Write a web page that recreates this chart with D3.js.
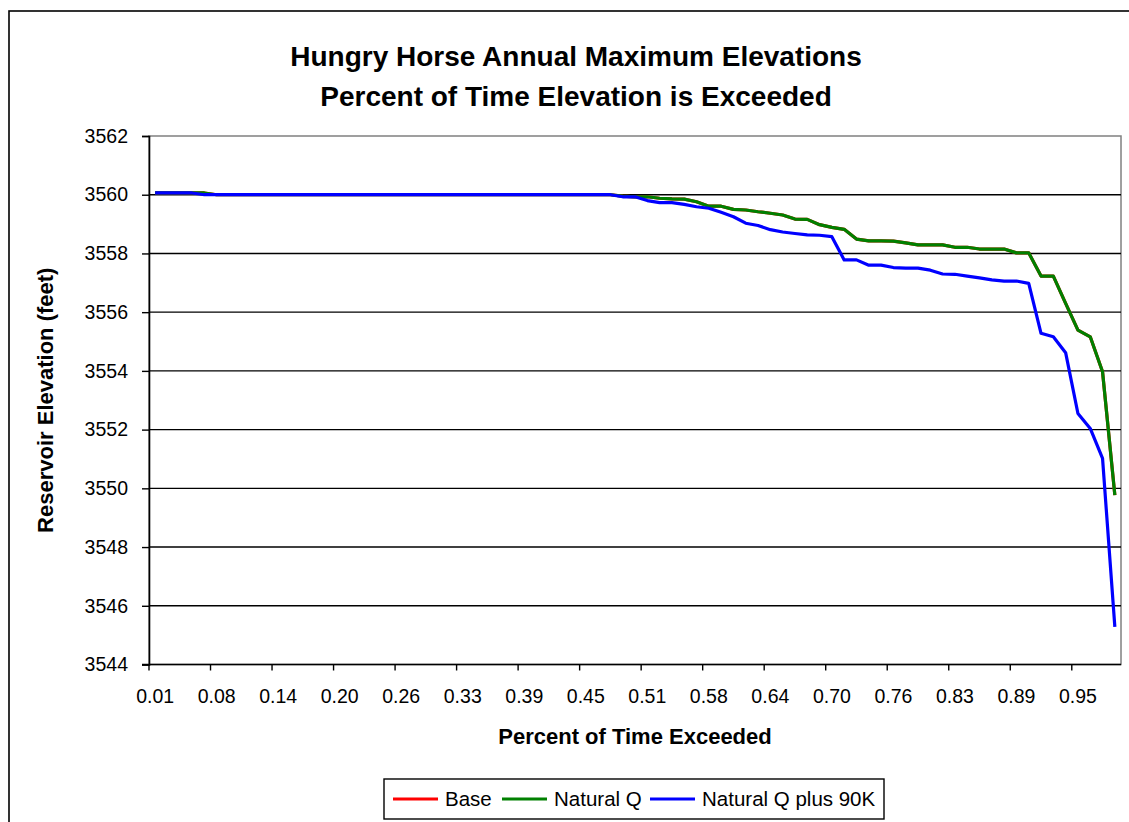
<!DOCTYPE html>
<html>
<head>
<meta charset="utf-8">
<script src="https://cdn.jsdelivr.net/npm/d3@7"></script>
<style>
  body { margin: 0; background: #fff; }
  svg { display: block; font-family: "Liberation Sans", Arial, sans-serif; }
</style>
</head>
<body>
<svg id="chart" width="1129" height="822"></svg>
<script>
// exceedance plotting positions (rank / 80), as printed on the category axis
var categories = ["0.01","0.03","0.04","0.05","0.06","0.08","0.09","0.10","0.11","0.13",
	"0.14","0.15","0.16","0.18","0.19","0.20","0.21","0.23","0.24","0.25",
	"0.26","0.28","0.29","0.30","0.31","0.33","0.34","0.35","0.36","0.38",
	"0.39","0.40","0.41","0.43","0.44","0.45","0.46","0.48","0.49","0.50",
	"0.51","0.53","0.54","0.55","0.56","0.58","0.59","0.60","0.61","0.63",
	"0.64","0.65","0.66","0.68","0.69","0.70","0.71","0.73","0.74","0.75",
	"0.76","0.78","0.79","0.80","0.81","0.83","0.84","0.85","0.86","0.88",
	"0.89","0.90","0.91","0.93","0.94","0.95","0.96","0.98","0.99"];

var base = [3560.06,3560.06,3560.06,3560.06,3560.06,3560.00,3560.00,3560.00,3560.00,3560.00,
	3560.00,3560.00,3560.00,3560.00,3560.00,3560.00,3560.00,3560.00,3560.00,3560.00,
	3560.00,3560.00,3560.00,3560.00,3560.00,3560.00,3560.00,3560.00,3560.00,3560.00,
	3560.00,3560.00,3560.00,3560.00,3560.00,3560.00,3560.00,3560.00,3559.95,3559.93,
	3559.93,3559.88,3559.86,3559.85,3559.76,3559.61,3559.61,3559.50,3559.48,3559.42,
	3559.37,3559.31,3559.17,3559.16,3558.98,3558.89,3558.82,3558.49,3558.43,3558.43,
	3558.42,3558.36,3558.29,3558.29,3558.29,3558.21,3558.21,3558.15,3558.15,3558.15,
	3558.02,3558.02,3557.23,3557.23,3556.30,3555.39,3555.16,3553.97,3549.77];

var naturalQ = [3560.06,3560.06,3560.06,3560.06,3560.06,3560.00,3560.00,3560.00,3560.00,3560.00,
	3560.00,3560.00,3560.00,3560.00,3560.00,3560.00,3560.00,3560.00,3560.00,3560.00,
	3560.00,3560.00,3560.00,3560.00,3560.00,3560.00,3560.00,3560.00,3560.00,3560.00,
	3560.00,3560.00,3560.00,3560.00,3560.00,3560.00,3560.00,3560.00,3559.95,3559.93,
	3559.93,3559.88,3559.86,3559.85,3559.76,3559.61,3559.61,3559.50,3559.48,3559.42,
	3559.37,3559.31,3559.17,3559.16,3558.98,3558.89,3558.82,3558.49,3558.43,3558.43,
	3558.42,3558.36,3558.29,3558.29,3558.29,3558.21,3558.21,3558.15,3558.15,3558.15,
	3558.02,3558.02,3557.23,3557.23,3556.30,3555.39,3555.16,3553.97,3549.77];

var naturalQ90K = [3560.06,3560.06,3560.06,3560.06,3560.00,3560.00,3560.00,3560.00,3560.00,3560.00,
	3560.00,3560.00,3560.00,3560.00,3560.00,3560.00,3560.00,3560.00,3560.00,3560.00,
	3560.00,3560.00,3560.00,3560.00,3560.00,3560.00,3560.00,3560.00,3560.00,3560.00,
	3560.00,3560.00,3560.00,3560.00,3560.00,3560.00,3560.00,3560.00,3559.93,3559.93,
	3559.80,3559.73,3559.73,3559.67,3559.59,3559.54,3559.40,3559.25,3559.03,3558.95,
	3558.81,3558.73,3558.68,3558.63,3558.62,3558.57,3557.78,3557.78,3557.60,3557.60,
	3557.52,3557.50,3557.50,3557.43,3557.30,3557.29,3557.23,3557.17,3557.10,3557.06,
	3557.06,3556.98,3555.28,3555.16,3554.62,3552.55,3552.04,3551.02,3545.28];

var yTicks = [3544,3546,3548,3550,3552,3554,3556,3558,3560,3562];
var labelEvery = 5;

var seriesNames = ["Base", "Natural Q", "Natural Q plus 90K"];
var seriesColors = ["#ff0000", "#008000", "#0000ff"];
var seriesValues = [base, naturalQ, naturalQ90K];

var svg = d3.select("#chart");
var plotLeft = 149, plotRight = 1121, plotTop = 136, plotBottom = 664.5;

var x = d3.scaleBand().domain(categories).range([plotLeft, plotRight]).padding(0);
var y = d3.scaleLinear().domain([3544, 3562]).range([plotBottom, plotTop]);
var cx = function(c) { return x(c) + x.bandwidth() / 2; };

// chart area border (runs off the right and bottom of the page)
svg.append("rect")
	.attr("x", 9).attr("y", 11)
	.attr("width", 1200).attr("height", 900)
	.attr("fill", "none").attr("stroke", "#000").attr("stroke-width", 1.6);

// plot area border
svg.append("rect")
	.attr("x", plotLeft).attr("y", plotTop)
	.attr("width", plotRight - plotLeft).attr("height", plotBottom - plotTop)
	.attr("fill", "#fff").attr("stroke", "#808080").attr("stroke-width", 1.5);

// gridlines
svg.append("g").selectAll("line")
	.data(yTicks.filter(function(t) { return t !== 3544 && t !== 3562; }))
	.enter().append("line")
	.attr("x1", plotLeft).attr("x2", plotRight)
	.attr("y1", function(d) { return y(d); }).attr("y2", function(d) { return y(d); })
	.attr("stroke", "#000").attr("stroke-width", 1.4);

// y axis
var yAxis = svg.append("g")
	.attr("transform", "translate(" + plotLeft + ",0)")
	.call(d3.axisLeft(y).tickValues(yTicks).tickSize(7).tickPadding(14).tickFormat(d3.format("d")));
yAxis.select(".domain").attr("stroke", "#000").attr("stroke-width", 1.6);
yAxis.selectAll(".tick line").attr("stroke", "#000").attr("stroke-width", 1.4);
yAxis.selectAll("text").attr("font-size", 19.5).attr("fill", "#000")
	.attr("font-family", "Liberation Sans, Arial, sans-serif");

// x axis: labels at category centres, ticks at category boundaries
var shown = categories.filter(function(c, i) { return i % labelEvery === 0; });
var xAxis = svg.append("g")
	.attr("transform", "translate(0," + plotBottom + ")")
	.call(d3.axisBottom(x).tickValues(shown).tickSize(0).tickPadding(25));
xAxis.select(".domain").remove();
xAxis.selectAll("text").attr("font-size", 19.5).attr("fill", "#000")
	.attr("font-family", "Liberation Sans, Arial, sans-serif");
svg.append("g").selectAll("line")
	.data(shown)
	.enter().append("line")
	.attr("x1", function(d) { return x(d); }).attr("x2", function(d) { return x(d); })
	.attr("y1", plotBottom).attr("y2", plotBottom + 6)
	.attr("stroke", "#000").attr("stroke-width", 1.4);
svg.append("line")
	.attr("x1", plotLeft - 7).attr("x2", plotRight)
	.attr("y1", plotBottom).attr("y2", plotBottom)
	.attr("stroke", "#000").attr("stroke-width", 1.6);

// series
var line = d3.line()
	.x(function(d, i) { return cx(categories[i]); })
	.y(function(d) { return y(d); });

svg.append("g").selectAll("path")
	.data(seriesValues)
	.enter().append("path")
	.attr("d", line)
	.attr("fill", "none")
	.attr("stroke", function(d, i) { return seriesColors[i]; })
	.attr("stroke-width", 3.2)
	.attr("stroke-linejoin", "round");

// titles
svg.append("text")
	.attr("x", 576).attr("y", 66)
	.attr("text-anchor", "middle").attr("font-size", 28).attr("font-weight", "bold")
	.text("Hungry Horse Annual Maximum Elevations");
svg.append("text")
	.attr("x", 576).attr("y", 106)
	.attr("text-anchor", "middle").attr("font-size", 28).attr("font-weight", "bold")
	.text("Percent of Time Elevation is Exceeded");

svg.append("text")
	.attr("x", (plotLeft + plotRight) / 2).attr("y", 744)
	.attr("text-anchor", "middle").attr("font-size", 22).attr("font-weight", "bold")
	.text("Percent of Time Exceeded");

svg.append("text")
	.attr("transform", "translate(53," + ((plotTop + plotBottom) / 2) + ") rotate(-90)")
	.attr("text-anchor", "middle").attr("font-size", 22).attr("font-weight", "bold")
	.text("Reservoir Elevation (feet)");

// legend
var legend = svg.append("g");
legend.append("rect")
	.attr("x", 384).attr("y", 779)
	.attr("width", 500).attr("height", 40)
	.attr("fill", "#fff").attr("stroke", "#000").attr("stroke-width", 1.4);
var legendX = [393, 502, 650];
var items = legend.selectAll("g.item")
	.data(seriesNames)
	.enter().append("g")
	.attr("transform", function(d, i) { return "translate(" + legendX[i] + ",799)"; });
items.append("line")
	.attr("x1", 0).attr("x2", 45)
	.attr("stroke", function(d, i) { return seriesColors[i]; })
	.attr("stroke-width", 3.2);
items.append("text")
	.attr("x", 52).attr("y", 7)
	.attr("font-size", 20.5)
	.text(function(d) { return d; });
</script>
</body>
</html>
